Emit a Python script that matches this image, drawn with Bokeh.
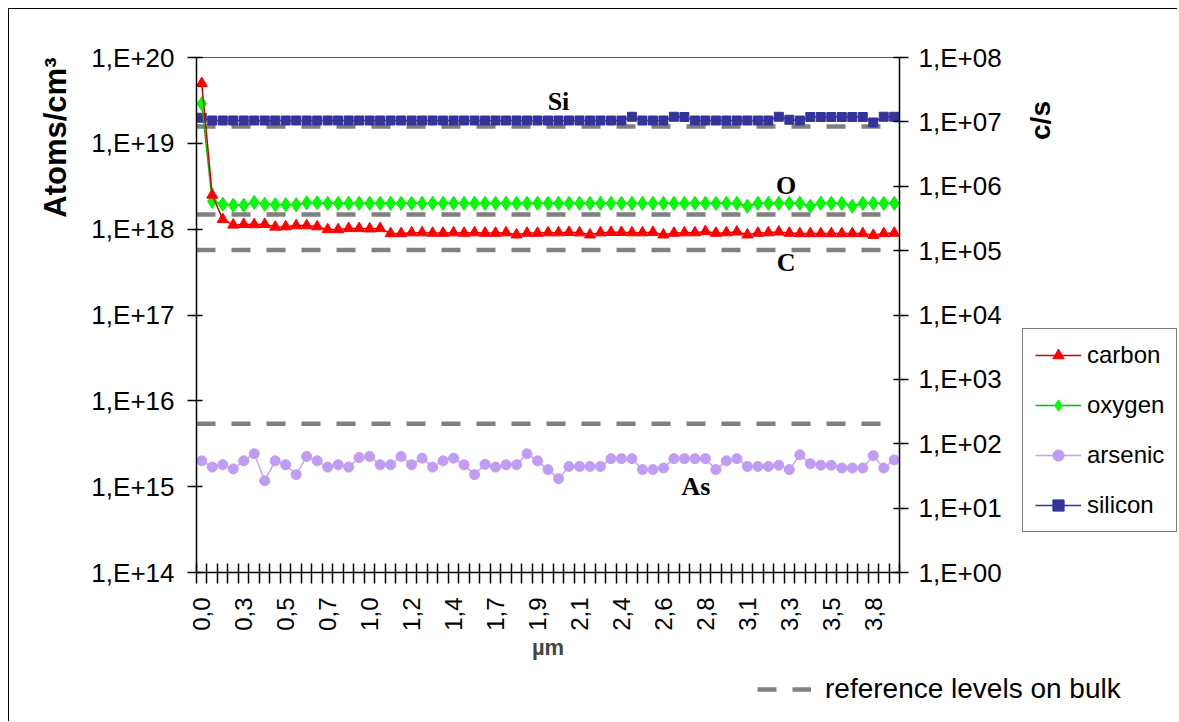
import math
from bokeh.plotting import figure
from bokeh.layouts import row, column
from bokeh.models import (Range1d, LogAxis, LogScale, FixedTicker, CustomJSTickFormatter,
                          Legend, LegendItem, Title)
from bokeh.core.properties import value
from bokeh.embed import file_html
from bokeh.resources import INLINE

# ---------------- data ----------------
x_labels = ["0,0", "0,3", "0,5", "0,7", "1,0", "1,2", "1,4", "1,7", "1,9",
            "2,1", "2,4", "2,6", "2,8", "3,1", "3,3", "3,5", "3,8"]
label_every = 4

carbon = [5.0e19, 2.5e18, 1.3e18, 1.12e18, 1.14e18, 1.13e18, 1.14e18, 1.06e18, 1.07e18, 1.10e18,
          1.10e18, 1.07e18, 9.9e17, 9.9e17, 1.02e18, 1.02e18, 1.01e18, 1.02e18, 8.9e17, 8.9e17,
          9.1e17, 9.1e17, 9.0e17, 9.0e17, 9.1e17, 9.0e17, 9.1e17, 9.0e17, 9.0e17, 9.1e17,
          8.6e17, 9.0e17, 9.0e17, 9.1e17, 9.1e17, 9.2e17, 9.1e17, 8.6e17, 9.1e17, 9.2e17,
          9.2e17, 9.1e17, 9.1e17, 9.2e17, 8.6e17, 9.0e17, 9.1e17, 9.1e17, 9.4e17, 9.0e17,
          9.1e17, 9.3e17, 8.6e17, 9.0e17, 9.1e17, 9.3e17, 9.0e17, 8.9e17, 8.9e17, 8.9e17,
          8.9e17, 8.9e17, 8.9e17, 8.9e17, 8.5e17, 8.9e17, 9.0e17]

oxygen = [2.9e19, 2.1e18, 1.95e18, 1.9e18, 1.9e18, 2.05e18, 1.95e18, 1.93e18, 1.93e18, 1.93e18,
          2.03e18, 2.03e18, 2.0e18, 2.0e18, 2.0e18, 2.0e18, 2.0e18, 2.0e18, 2.0e18, 2.0e18,
          2.0e18, 2.0e18, 2.0e18, 2.0e18, 2.0e18, 2.0e18, 2.0e18, 2.0e18, 2.0e18, 2.0e18,
          2.0e18, 2.0e18, 2.0e18, 2.0e18, 2.0e18, 2.0e18, 2.0e18, 2.0e18, 2.0e18, 2.0e18,
          2.0e18, 2.0e18, 2.0e18, 2.0e18, 2.0e18, 2.0e18, 2.0e18, 2.0e18, 2.0e18, 2.0e18,
          2.0e18, 2.0e18, 1.85e18, 2.0e18, 2.0e18, 2.0e18, 2.0e18, 2.0e18, 1.85e18, 2.0e18,
          2.0e18, 2.0e18, 1.85e18, 2.0e18, 2.0e18, 2.0e18, 2.0e18]

arsenic = [2.0e15, 1.69e15, 1.80e15, 1.61e15, 2.0e15, 2.42e15, 1.17e15, 2.0e15, 1.80e15, 1.38e15,
           2.25e15, 2.0e15, 1.69e15, 1.80e15, 1.69e15, 2.19e15, 2.25e15, 1.80e15, 1.80e15, 2.25e15,
           1.80e15, 2.15e15, 1.69e15, 2.0e15, 2.15e15, 1.80e15, 1.38e15, 1.82e15, 1.69e15, 1.80e15,
           1.80e15, 2.42e15, 2.0e15, 1.58e15, 1.24e15, 1.72e15, 1.72e15, 1.72e15, 1.72e15, 2.12e15,
           2.12e15, 2.12e15, 1.58e15, 1.58e15, 1.65e15, 2.12e15, 2.12e15, 2.12e15, 2.12e15, 1.58e15,
           2.0e15, 2.12e15, 1.72e15, 1.72e15, 1.72e15, 1.78e15, 1.58e15, 2.35e15, 1.85e15, 1.78e15,
           1.78e15, 1.65e15, 1.65e15, 1.65e15, 2.3e15, 1.65e15, 2.05e15]

silicon = [1.16e7, 1.05e7, 1.05e7, 1.05e7, 1.05e7, 1.05e7, 1.05e7, 1.05e7, 1.05e7, 1.05e7,
           1.05e7, 1.05e7, 1.05e7, 1.05e7, 1.05e7, 1.05e7, 1.05e7, 1.05e7, 1.05e7, 1.05e7,
           1.05e7, 1.05e7, 1.05e7, 1.05e7, 1.05e7, 1.05e7, 1.05e7, 1.05e7, 1.05e7, 1.05e7,
           1.05e7, 1.05e7, 1.05e7, 1.05e7, 1.05e7, 1.05e7, 1.05e7, 1.05e7, 1.05e7, 1.05e7,
           1.05e7, 1.2e7, 1.05e7, 1.05e7, 1.05e7, 1.2e7, 1.19e7, 1.05e7, 1.05e7, 1.05e7,
           1.05e7, 1.05e7, 1.05e7, 1.05e7, 1.05e7, 1.2e7, 1.08e7, 1.05e7, 1.19e7, 1.19e7,
           1.19e7, 1.19e7, 1.19e7, 1.19e7, 0.98e7, 1.2e7, 1.2e7]

# reference levels on bulk (atoms/cm3 on left axis, c/s for silicon)
ref_oxygen = 1.48e18
ref_carbon = 5.7e17
ref_arsenic = 5.4e15
ref_silicon_cs = 8.5e6

ann_text = ["Si", "O", "C", "As"]
ann_x = [34.0, 55.7, 55.7, 47.1]
ann_y = [3.1e19, 3.25e18, 4.1e17, 1.0e15]

left_ticks = [1e14, 1e15, 1e16, 1e17, 1e18, 1e19, 1e20]
right_ticks = [1e0, 1e1, 1e2, 1e3, 1e4, 1e5, 1e6, 1e7, 1e8]

# ---------------- styles ----------------
FONT = "Liberation Sans"
C_CARBON_L, C_CARBON_M = "#D00000", "#FF0000"
C_OXY_L, C_OXY_M = "#00C000", "#00FF00"
C_AS_L, C_AS_M = "#C3A6EE", "#C09CF4"
C_SI = "#333399"
REF = dict(line_color="#808080", line_width=4.5, line_dash="19 16")
CARBON_M = dict(marker="triangle", size=11, fill_color=C_CARBON_M, line_color=C_CARBON_M)
OXY_M = dict(marker="diamond", size=14, fill_color=C_OXY_M, line_color="#00EE00")
AS_M = dict(marker="circle", size=10, fill_color=C_AS_M, line_color=C_AS_M)
SI_M = dict(marker="square", size=9, fill_color=C_SI, line_color=C_SI)

n = len(carbon)
idx = list(range(n))

# ---------------- main chart ----------------
p = figure(width=1011, height=656, x_range=Range1d(-0.5, n - 0.5),
           y_range=Range1d(left_ticks[0], left_ticks[-1]), y_axis_type="log",
           output_backend="svg", toolbar_location=None,
           min_border_left=187, min_border_top=48, min_border_right=121, min_border_bottom=93)
p.extra_y_ranges = {"cs": Range1d(right_ticks[0], right_ticks[-1])}
p.extra_y_scales = {"cs": LogScale()}
p.xgrid.visible = False
p.ygrid.visible = False
p.outline_line_color = "#555555"
p.outline_line_width = 1

fmt_code = """
const e = Math.round(Math.log10(tick));
return "1,E+" + (e < 10 ? "0" + e : String(e));
"""

def style_y(ax, standoff):
    ax.formatter = CustomJSTickFormatter(code=fmt_code)
    ax.major_label_text_font = FONT
    ax.major_label_text_font_size = "26px"
    ax.major_label_text_color = "black"
    ax.major_tick_in = 6
    ax.major_tick_out = 9
    ax.major_tick_line_width = 1.5
    ax.axis_line_width = 1.5
    ax.major_label_standoff = standoff
    ax.minor_tick_line_color = None

ya = p.yaxis[0]
ya.ticker = FixedTicker(ticks=left_ticks, minor_ticks=[])
style_y(ya, 13)

ra = LogAxis(y_range_name="cs")
ra.ticker = FixedTicker(ticks=right_ticks, minor_ticks=[])
style_y(ra, 10)
p.add_layout(ra, "right")

p.add_layout(Title(text="Atoms/cm³", align="right", text_font=FONT, text_font_style="bold",
                   text_font_size="31px", text_color="black", standoff=31), "left")

xa = p.xaxis[0]
label_pos = [i * label_every for i in range(len(x_labels))]
xa.ticker = FixedTicker(ticks=label_pos, minor_ticks=[i - 0.5 for i in range(n + 1)])
xa.major_label_overrides = {pos: lab for pos, lab in zip(label_pos, x_labels)}
xa.major_label_orientation = math.pi / 2
xa.major_label_text_font = FONT
xa.major_label_text_font_size = "24px"
xa.major_label_text_color = "black"
xa.major_tick_line_color = None
xa.major_tick_in = 0
xa.major_tick_out = 11
xa.major_label_standoff = 14
xa.minor_tick_in = 9
xa.minor_tick_out = 11
xa.minor_tick_line_color = "black"
xa.minor_tick_line_width = 1.5
xa.axis_line_width = 1.5
xa.axis_label = "µm"
xa.axis_label_text_font = FONT
xa.axis_label_text_font_style = "bold"
xa.axis_label_text_font_size = "22px"
xa.axis_label_standoff = 1

# reference lines
ref_x = [-0.5, n - 1]
p.line(ref_x, [ref_silicon_cs] * 2, y_range_name="cs", **REF)
p.line(ref_x, [ref_oxygen] * 2, **REF)
p.line(ref_x, [ref_carbon] * 2, **REF)
p.line(ref_x, [ref_arsenic] * 2, **REF)

# series
p.line(idx, arsenic, line_color=C_AS_L, line_width=1.5)
p.scatter(idx, arsenic, **AS_M)
p.line(idx, silicon, y_range_name="cs", line_color=C_SI, line_width=1.5)
p.scatter(idx, silicon, y_range_name="cs", **SI_M)
p.line(idx, oxygen, line_color=C_OXY_L, line_width=1.5)
p.scatter(idx, oxygen, **OXY_M)
p.line(idx, carbon, line_color=C_CARBON_L, line_width=1.5)
p.scatter(idx, carbon, **CARBON_M)

p.text(ann_x, ann_y, text=ann_text, text_font=value("Liberation Serif"), text_font_style="bold",
       text_font_size="26px", text_align="center", text_baseline="middle", text_color="black")

# ---------------- right strip: c/s title + series legend ----------------
# its frame is aligned with the main plot frame (515 px tall)
WB, HF = 157, 515
b = figure(width=WB, height=656, x_range=Range1d(0, WB), y_range=Range1d(0, HF),
           output_backend="svg", toolbar_location=None, min_border=0,
           x_axis_location=None, y_axis_location=None, outline_line_color=None)
b.grid.visible = False
b.text([20], [452], text=["c/s"], angle=math.pi / 2, text_font=value(FONT), text_font_style="bold",
       text_font_size="28px", text_align="center", text_baseline="middle", text_color="black")
hx, hy = [-100], [-100]   # off-screen swatch samples for the legend
lc = [b.line(hx, hy, line_color=C_CARBON_L, line_width=1.5), b.scatter(hx, hy, **CARBON_M)]
lo = [b.line(hx, hy, line_color=C_OXY_L, line_width=1.5), b.scatter(hx, hy, **OXY_M)]
la = [b.line(hx, hy, line_color=C_AS_L, line_width=1.5), b.scatter(hx, hy, **AS_M)]
ls = [b.line(hx, hy, line_color=C_SI, line_width=1.5), b.scatter(hx, hy, **SI_M)]
leg = Legend(items=[LegendItem(label="carbon", renderers=lc),
                    LegendItem(label="oxygen", renderers=lo),
                    LegendItem(label="arsenic", renderers=la),
                    LegendItem(label="silicon", renderers=ls)],
             location=(2, 40), orientation="vertical",
             padding=12, spacing=22, margin=0, label_height=28, glyph_height=28,
             glyph_width=46, label_standoff=6,
             border_line_color="black", border_line_width=1.5,
             background_fill_color="white", background_fill_alpha=1,
             label_text_font=FONT, label_text_font_size="24px", label_text_color="black")
b.add_layout(leg, "center")

# ---------------- bottom strip: reference legend ----------------
WC, HC = 1168, 56
c = figure(width=WC, height=HC, x_range=Range1d(0, WC), y_range=Range1d(0, HC),
           output_backend="svg", toolbar_location=None, min_border=0,
           x_axis_location=None, y_axis_location=None, outline_line_color=None)
c.grid.visible = False
rr = c.line([-100, -90], [-100, -100], **REF)
leg2 = Legend(items=[LegendItem(label="reference levels on bulk", renderers=[rr])],
              location=(748, 16), orientation="horizontal",
              padding=5, spacing=0, margin=0, label_height=28, glyph_height=28,
              glyph_width=54, label_standoff=14,
              border_line_color=None, background_fill_alpha=0,
              label_text_font=FONT, label_text_font_size="28px", label_text_color="black")
c.add_layout(leg2, "center")

layout = column(row(p, b, spacing=0), c, spacing=0)
layout.styles = {"border-left": "1px solid #000", "border-top": "1px solid #000",
                 "margin-left": "8px", "margin-top": "8px"}

open("out.html", "w").write(file_html(layout, INLINE))
